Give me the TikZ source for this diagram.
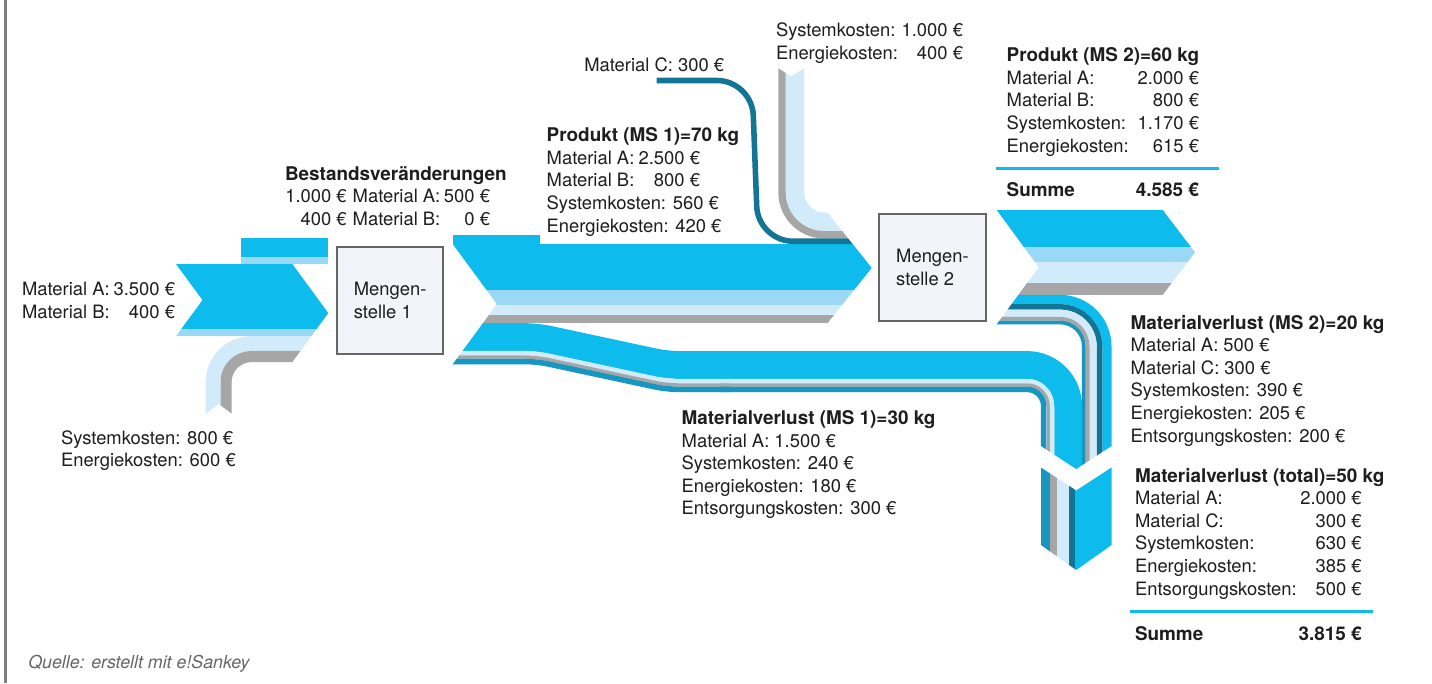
\documentclass[tikz,border=0pt]{standalone}
\usepackage{fontspec}
\setmainfont{TeX Gyre Heros}
\definecolor{cA}{HTML}{0DBBEC}
\definecolor{cB}{HTML}{9BD8F5}
\definecolor{cS}{HTML}{D2EBFA}
\definecolor{cE}{HTML}{A6A6A6}
\definecolor{cC}{HTML}{137594}
\definecolor{cD}{HTML}{1696C0}
\definecolor{boxfill}{HTML}{F3F4F9}
\definecolor{boxline}{HTML}{666666}
\definecolor{txtcol}{HTML}{1E1E1E}
\newcommand{\txtblock}[1]{\begin{tabular}[t]{@{}l@{}}#1\end{tabular}}
\newcommand{\lrrow}[3]{\makebox[#1pt][l]{#2\hfill #3}}
\newcommand{\hdr}[1]{{\fontsize{18.9}{22.6}\selectfont\bfseries #1}}
\begin{document}
\begin{tikzpicture}[x=1pt,y=-1pt,
  txt/.style={anchor=base west, inner sep=0pt, outer sep=0pt, text=txtcol,
    font=\fontsize{18.4}{22.6}\selectfont},
  mbox/.style={draw=boxline, line width=2.5pt, fill=boxfill, align=left,
    inner sep=0pt, text=txtcol, font=\fontsize{18.4}{22.6}\selectfont},
  rule/.style={cA, line width=2.5pt}]
\useasboundingbox (0,0) rectangle (1432,683);
\fill[white] (0,0) rectangle (1432,683);
\draw[boxline!85, line width=3pt] (5,0) -- (5,683);

% ---------- input to MS1 ----------
\fill[cA] (240.7,238.1) rectangle (328.3,256.6);
\fill[cB] (240.7,256.6) rectangle (328.3,264);
\begin{scope}
\clip (176,264) -- (292.3,264) -- (328.3,313.03) -- (292.3,362.05) -- (250,362.05)
  -- (250,413.5) -- (231.6,413.5) -- (218.65,404) -- (205.7,413.5) -- (190,413.5)
  -- (190,336.15) -- (176,336.15) -- (202.5,300.075) -- cycle;
\draw[cA, line width=64.75pt] (160,296.375) -- (340,296.375);
\draw[cB, line width=7.4pt] (160,332.45) -- (340,332.45);
\draw[cS, line width=14.8pt, rounded corners=38.5pt] (213.1,420) -- (213.1,343.55) -- (340,343.55);
\draw[cE, line width=11.1pt, rounded corners=25.55pt] (226.05,420) -- (226.05,356.5) -- (340,356.5);
\end{scope}

% ---------- MS1 box ----------
\node[mbox, minimum width=105.9pt, minimum height=107.2pt] (ms1) at (390.15,300.5) {Mengen-\\stelle 1};

% ---------- product MS1 -> MS2 with extra inputs ----------
\fill[cA] (452.7,234.75) rectangle (540,244);
\begin{scope}
\clip (452.7,244) -- (640,244) -- (640,40) -- (778.3,40) -- (778.3,68.3) -- (791.25,76.5)
  -- (804.2,68.3) -- (827.45,68.3) -- (827.45,212.55) -- (871.7,267.865) -- (827.45,323.18)
  -- (482.9,323.18) -- (496.9,304.125) -- cycle;
\draw[cA, line width=46.25pt] (440,267.125) -- (900,267.125);
\draw[cB, line width=14.8pt] (440,297.65) -- (900,297.65);
\draw[cS, line width=10.36pt] (440,310.23) -- (900,310.23);
\draw[cE, line width=7.77pt] (440,319.295) -- (900,319.295);
\draw[cS, line width=18.5pt, rounded corners=29.25pt] (794.95,55) -- (794.95,221.8) -- (900,221.8);
\draw[cE, line width=7.4pt, rounded corners=42.2pt] (782,55) -- (782,234.75) -- (900,234.75);
\draw[cC, line width=5.55pt, rounded corners=35pt] (656.7,80.5) -- (752,80.5) -- (758,241.225) -- (900,241.225);
\end{scope}

% ---------- material loss MS1 ----------
\begin{scope}
\clip (496.9,304.125) -- (1150,304.125) -- (1150,446) -- (1111.5,446) -- (1076.2,469)
  -- (1040.93,446) -- (1000,446) -- (600,440) -- (452.7,364.25) -- cycle;
\draw[cA, line width=27.75pt, rounded corners=12pt] (440,337.055) -- (536.7,337.055) -- (666.7,364.955) -- (730,364.955);
\draw[cS, line width=4.44pt, rounded corners=12pt] (440,353.15) -- (536.7,353.15) -- (666.7,381.05) -- (730,381.05);
\draw[cE, line width=3.33pt, rounded corners=12pt] (440,357.035) -- (536.7,357.035) -- (666.7,384.935) -- (730,384.935);
\draw[cD, line width=5.55pt, rounded corners=12pt] (440,361.475) -- (536.7,361.475) -- (666.7,389.375) -- (730,389.375);
\draw[cA, line width=27.75pt, rounded corners=41.125pt] (720,364.955) -- (1068.125,364.955) -- (1068.125,480);
\draw[cS, line width=4.44pt, rounded corners=25.01pt] (720,381.05) -- (1052.01,381.05) -- (1052.01,480);
\draw[cE, line width=3.33pt, rounded corners=21.155pt] (720,384.935) -- (1048.155,384.935) -- (1048.155,480);
\draw[cD, line width=5.55pt, rounded corners=16.705pt] (720,389.375) -- (1043.705,389.375) -- (1043.705,480);
\end{scope}

% ---------- MS2 box ----------
\node[mbox, minimum width=106.6pt, minimum height=106.6pt] (ms2) at (932.5,267.5) {Mengen-\\stelle 2};

% ---------- MS2 outputs ----------
\begin{scope}
\clip (996.7,210) -- (1162.7,210) -- (1195,252.41) -- (1162.7,294.82) -- (1150,294.82)
  -- (1150,446) -- (1111.5,446) -- (1076.2,469) -- (1060,458.4) -- (1060,340)
  -- (996.7,324.33) -- (1038.7,267.165) -- cycle;
\draw[cA, line width=37pt] (980,228.5) -- (1210,228.5);
\draw[cB, line width=14.8pt] (980,254.4) -- (1210,254.4);
\draw[cS, line width=21.645pt] (980,272.6225) -- (1210,272.6225);
\draw[cE, line width=11.3775pt] (980,289.134) -- (1210,289.134);
\draw[cA, line width=9.25pt, rounded corners=46.875pt] (980,299.4475) -- (1106.875,299.4475) -- (1106.875,480);
\draw[cC, line width=5.55pt, rounded corners=39.475pt] (980,306.8475) -- (1099.475,306.8475) -- (1099.475,480);
\draw[cS, line width=7.215pt, rounded corners=33.09pt] (980,313.23) -- (1093.09,313.23) -- (1093.09,480);
\draw[cE, line width=3.7925pt, rounded corners=27.59pt] (980,318.734) -- (1087.59,318.734) -- (1087.59,480);
\draw[cD, line width=3.7pt, rounded corners=23.72pt] (980,322.48) -- (1083.72,322.48) -- (1083.72,480);
\end{scope}

% ---------- total loss ----------
\begin{scope}
\clip (1040.93,467.5) -- (1076.2,490.5) -- (1111.5,467.5) -- (1111.5,545) -- (1076.2,570) -- (1040.93,545) -- cycle;
\draw[cD, line width=9.25pt] (1045.555,460) -- (1045.555,580);
\draw[cE, line width=7.1225pt] (1053.74,460) -- (1053.74,580);
\draw[cS, line width=11.655pt] (1063.13,460) -- (1063.13,580);
\draw[cC, line width=5.55pt] (1071.73,460) -- (1071.73,580);
\draw[cA, line width=37pt] (1093.01,460) -- (1093.01,580);
\end{scope}

% ---------- rules ----------
\draw[rule] (996,168.3) -- (1219.3,168.3);
\draw[rule] (1130,611.7) -- (1373.3,611.7);

% ---------- texts ----------
\node[txt] (inAB) at (22,295.7) {\txtblock{\lrrow{153}{Material A:}{3.500 €}\\ \lrrow{153}{Material B:}{400 €}}};
\node[txt] (inSE) at (61,444) {\txtblock{Systemkosten: 800 €\\ Energiekosten: 600 €}};
\node[txt] (best) at (285,180) {\txtblock{\hdr{Bestandsveränderungen}\\
  \makebox[61.7pt][r]{1.000 €}\hspace{6pt}\lrrow{137.3}{Material A:}{500 €}\\
  \makebox[61.7pt][r]{400 €}\hspace{6pt}\lrrow{137.3}{Material B:}{0 €}}};
\node[txt] (matC) at (584.3,71) {Material C: 300 €};
\node[txt] (topSE) at (776,36.7) {\txtblock{\lrrow{187}{Systemkosten:}{1.000 €}\\ \lrrow{187}{Energiekosten:}{400 €}}};
\node[txt] (prod1) at (546.7,141.7) {\txtblock{\hdr{Produkt (MS 1)=70 kg}\\
  \lrrow{153.3}{Material A:}{2.500 €}\\ \lrrow{153.3}{Material B:}{800 €}\\
  Systemkosten: 560 €\\ Energiekosten: 420 €}};
\node[txt] (loss1) at (681.7,424.5) {\txtblock{\hdr{Materialverlust (MS 1)=30 kg}\\
  Material A: 1.500 €\\ Systemkosten: 240 €\\ Energiekosten: 180 €\\ Entsorgungskosten: 300 €}};
\node[txt] (prod2) at (1006.7,61.7) {\txtblock{\hdr{Produkt (MS 2)=60 kg}\\
  \lrrow{192.3}{Material A:}{2.000 €}\\ \lrrow{192.3}{Material B:}{800 €}\\
  \lrrow{192.3}{Systemkosten:}{1.170 €}\\ \lrrow{192.3}{Energiekosten:}{615 €}}};
\node[txt] (sum2) at (1006.7,196.7) {\hdr{\lrrow{192.3}{Summe}{4.585 €}}};
\node[txt] (loss2) at (1130.7,329) {\txtblock{\hdr{Materialverlust (MS 2)=20 kg}\\
  Material A: 500 €\\ Material C: 300 €\\ Systemkosten: 390 €\\ Energiekosten: 205 €\\ Entsorgungskosten: 200 €}};
\node[txt] (losst) at (1135,482) {\txtblock{\hdr{Materialverlust (total)=50 kg}\\
  \lrrow{226.7}{Material A:}{2.000 €}\\ \lrrow{226.7}{Material C:}{300 €}\\
  \lrrow{226.7}{Systemkosten:}{630 €}\\ \lrrow{226.7}{Energiekosten:}{385 €}\\
  \lrrow{226.7}{Entsorgungskosten:}{500 €}}};
\node[txt] (sumt) at (1135,640) {\hdr{\lrrow{226.7}{Summe}{3.815 €}}};
\node[txt, text=black!60, font=\fontsize{17.8}{22}\selectfont\itshape] (src) at (28.3,668.5) {Quelle: erstellt mit e!Sankey};
\end{tikzpicture}
\end{document}
